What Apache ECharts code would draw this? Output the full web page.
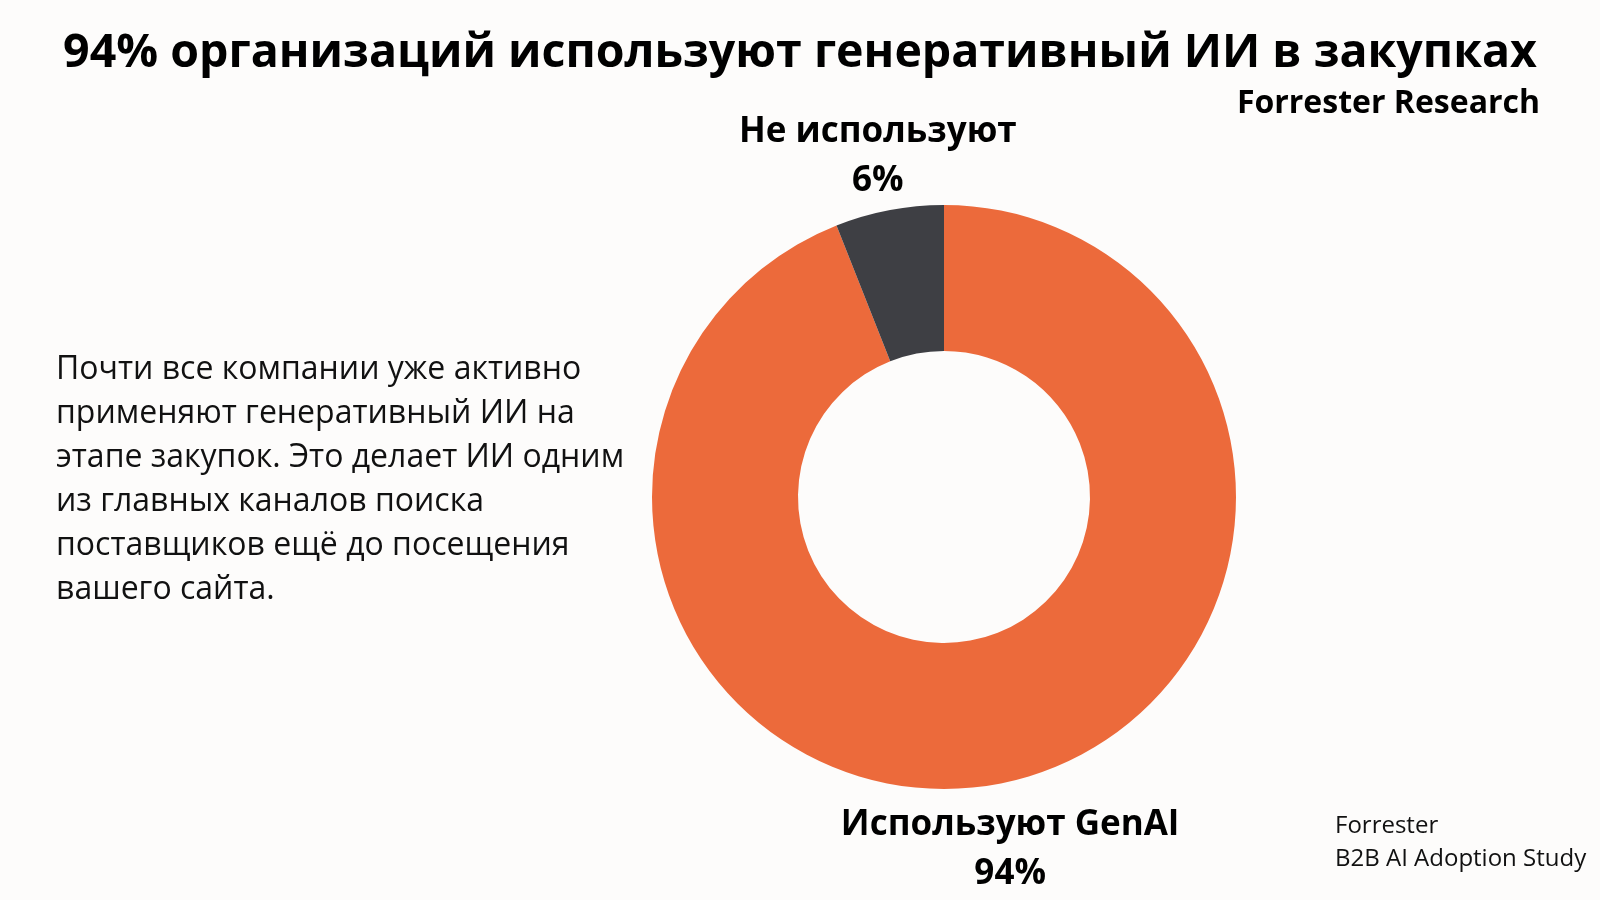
<!DOCTYPE html>
<html>
<head>
<meta charset="utf-8">
<script src="https://cdn.jsdelivr.net/npm/echarts@6/dist/echarts.min.js"></script>
<style>
  html, body { margin: 0; padding: 0; background: #fdfcfb; }
  #chart { width: 1600px; height: 900px; }
</style>
</head>
<body>
<div id="chart"></div>
<script>
// данные
var categories = ['Используют GenAI', 'Не используют']
var shares = [94, 6]
var sliceColors = ['#ec6a3b', '#3e3f44']

var titleText = '94% организаций используют генеративный ИИ в закупках'
var subtitleText = 'Forrester Research'
var noteText = 'Почти все компании уже активно\nприменяют генеративный ИИ на\nэтапе закупок. Это делает ИИ одним\nиз главных каналов поиска\nпоставщиков ещё до посещения\nвашего сайта.'
var sourceText = 'Forrester\nB2B AI Adoption Study'

var font = '"Open Sans", "Noto Sans", sans-serif'

var pieData = categories.map(function (name, i) {
    return { name: name, value: shares[i], itemStyle: { color: sliceColors[i] } }
})

var myChart = echarts.init(document.getElementById('chart'))
myChart.setOption({
    backgroundColor: '#fdfcfb',
    textStyle: { fontFamily: font },
    title: [
        {
            text: titleText,
            left: 'center',
            top: 25,
            textStyle: { fontSize: 46.5, fontWeight: 'bold', color: '#000', fontFamily: font }
        },
        {
            text: subtitleText,
            right: 55,
            top: 83,
            textStyle: { fontSize: 32, fontWeight: 'bold', color: '#000', fontFamily: font }
        }
    ],
    graphic: [
        {
            type: 'text',
            left: 56,
            top: 348,
            style: { text: noteText, font: '32px ' + font, fill: '#111', lineHeight: 44 }
        },
        {
            type: 'text',
            left: 1335,
            top: 810,
            style: { text: sourceText, font: '24px ' + font, fill: '#111', lineHeight: 33 }
        }
    ],
    series: [
        // кольцо
        {
            type: 'pie',
            center: [944, 497],
            radius: [146, 292],
            startAngle: 90,
            clockwise: true,
            silent: true,
            label: { show: false },
            labelLine: { show: false },
            data: pieData
        },
        // подписи (прозрачное кольцо)
        {
            type: 'pie',
            center: [944, 497],
            radius: [348, 352],
            startAngle: 90,
            clockwise: true,
            silent: true,
            itemStyle: { color: 'transparent' },
            labelLine: { show: false },
            label: {
                show: true,
                position: 'inside',
                offset: [0, 6],
                formatter: function (p) { return p.name + '\n' + p.value + '%' },
                fontFamily: font,
                fontSize: 35,
                fontWeight: 'bold',
                color: '#000',
                lineHeight: 49
            },
            data: categories.map(function (name, i) {
                return { name: name, value: shares[i] }
            })
        }
    ]
})
</script>
</body>
</html>
